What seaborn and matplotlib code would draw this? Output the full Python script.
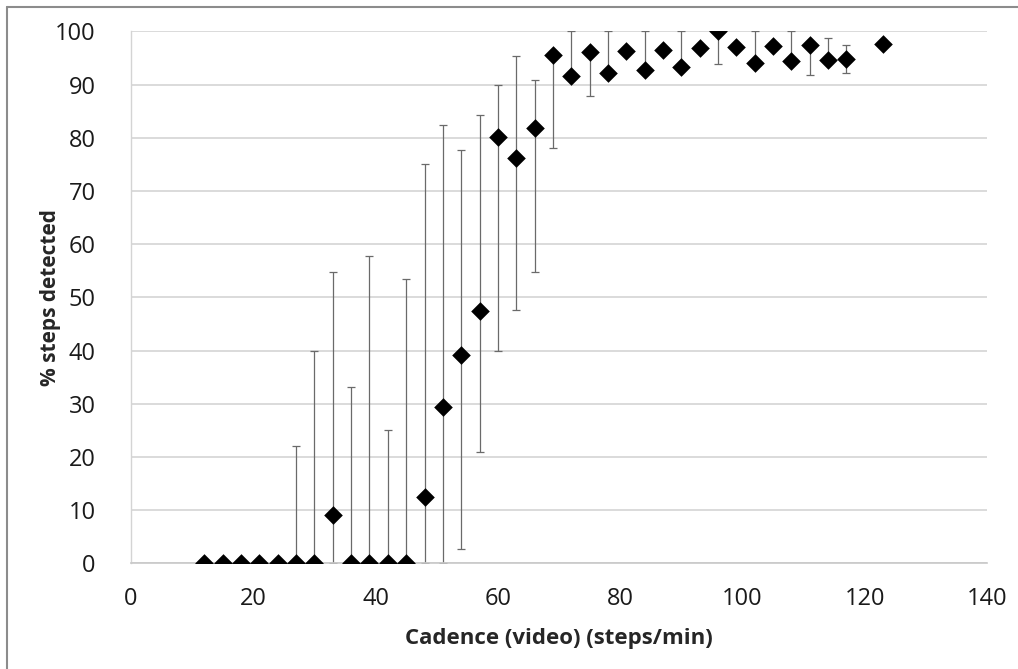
import seaborn as sns
import matplotlib.pyplot as plt
import matplotlib.lines as mlines
import pandas as pd
import numpy as np

# --- data ---
cadence = [12, 15, 18, 21, 24, 27, 30, 33, 36, 39, 42, 45, 48, 51, 54, 57, 60, 63,
           66, 69, 72, 75, 78, 81, 84, 87, 90, 93, 96, 99, 102, 105, 108, 111, 114, 117, 123]
pct_detected = [0, 0, 0, 0, 0, 0, 0, 9.1, 0, 0, 0, 0, 12.5, 29.4, 39.1, 47.5, 80.1, 76.2,
                81.8, 95.6, 91.6, 96.1, 92.2, 96.3, 92.8, 96.6, 93.3, 96.8, 100, 97.0, 94.1, 97.3, 94.4, 97.5, 94.7, 94.9, 97.6]
# error bar ends (equal to the value where no bar is drawn on that side)
err_low = [0, 0, 0, 0, 0, 0, 0, 0, 0, 0, 0, 0, 0, 0, 2.7, 21.0, 40.0, 47.7,
           54.7, 78.1, 91.6, 87.9, 92.2, 96.3, 92.8, 96.6, 93.3, 96.8, 93.8, 97.0, 94.1, 97.3, 94.4, 91.9, 94.7, 92.2, 97.6]
err_high = [0, 0, 0, 0, 0, 22.0, 40.0, 54.7, 33.2, 57.7, 25.0, 53.4, 75.0, 82.4, 77.7, 84.3, 90.0, 95.3,
            90.9, 95.6, 100, 96.1, 100, 96.3, 100, 96.6, 100, 96.8, 100, 97.0, 100, 97.3, 100, 97.5, 98.7, 97.5, 97.6]

df = pd.DataFrame({"cadence": cadence, "pct": pct_detected, "lo": err_low, "hi": err_high})

# --- styling ---
sns.set_style("white")
plt.rcParams["font.family"] = ["Open Sans", "DejaVu Sans"]

fig = plt.figure(figsize=(10.18, 6.69), dpi=100)
ax = fig.add_axes([0.1287, 0.158, 0.8409, 0.795])

# error bars
has_bar = df["hi"] > df["lo"]
d = df[has_bar]
ax.errorbar(d["cadence"], d["pct"],
            yerr=[d["pct"] - d["lo"], d["hi"] - d["pct"]],
            fmt="none", ecolor="#6a6a6a", elinewidth=0.9, capsize=2.6, capthick=0.9, zorder=2)

# diamonds
sns.scatterplot(data=df, x="cadence", y="pct", marker="D", color="black",
                s=90, edgecolor="black", linewidth=0, zorder=3, ax=ax)

ax.set_xlim(0, 140)
ax.set_ylim(0, 100)
ax.set_xticks(np.arange(0, 141, 20))
ax.set_yticks(np.arange(0, 101, 10))
ax.yaxis.grid(True, color="#d4d4d4", linewidth=1.2, zorder=0)
ax.set_axisbelow(True)

for side in ["top", "right"]:
    ax.spines[side].set_visible(False)
ax.spines["left"].set_color("#d4d4d4")
ax.spines["bottom"].set_color("#c8c8c8")
ax.spines["left"].set_linewidth(1.0)
ax.spines["bottom"].set_linewidth(1.2)

ax.tick_params(axis="y", which="major", length=6.5, width=1.0, color="#c8c8c8",
               labelsize=17, pad=19, labelcolor="#1a1a1a")
ax.tick_params(axis="x", which="major", length=6, width=1.0, color="#c8c8c8",
               labelsize=17, pad=11, labelcolor="#1a1a1a")

ax.set_xlabel("Cadence (video) (steps/min)", fontsize=16, fontweight="bold", labelpad=12)
ax.set_ylabel("% steps detected", fontsize=15, fontweight="bold", labelpad=-4)

# outer frame (top and left edges)
fig.add_artist(mlines.Line2D([7 / 1018, 7 / 1018], [0, 1 - 7 / 669], transform=fig.transFigure,
                             color="#8c8c8c", linewidth=1.5))
fig.add_artist(mlines.Line2D([7 / 1018, 1], [1 - 7 / 669, 1 - 7 / 669], transform=fig.transFigure,
                             color="#8c8c8c", linewidth=1.5))

fig.savefig("out.png", dpi=100)
plt.close(fig)
